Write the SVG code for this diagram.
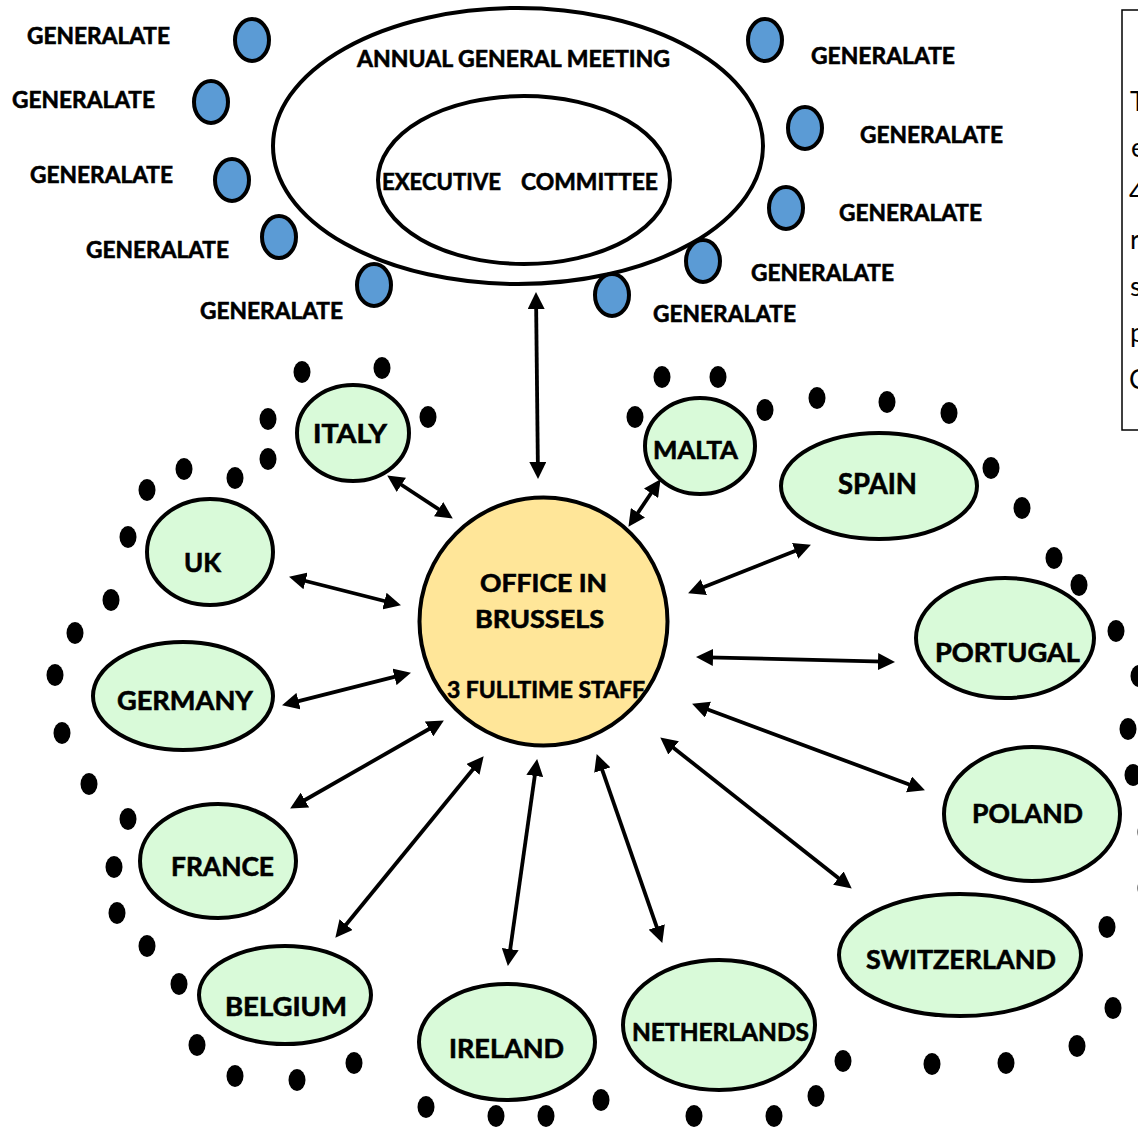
<svg xmlns="http://www.w3.org/2000/svg" width="1138" height="1128" viewBox="0 0 1138 1128">
<style>
.t{font-family:Lato,"Liberation Sans",sans-serif;font-weight:bold;fill:#000;stroke:#000;stroke-width:0.6}
.g{font-size:23px}
.c{font-size:27px}
.country{fill:#D9FAD9;stroke:#000;stroke-width:4}
.gen{fill:#5B9BD5;stroke:#000;stroke-width:4}
.dot{fill:#000}
.conn{stroke:#000;stroke-width:3.8;fill:none;marker-start:url(#ah);marker-end:url(#ah)}
.side{font-family:Lato,"Liberation Sans",sans-serif;font-size:27px;fill:#000}
</style>
<defs>
<marker id="ah" viewBox="0 0 17 17" refX="6" refY="8.5" markerWidth="17" markerHeight="17" markerUnits="userSpaceOnUse" orient="auto-start-reverse">
<path d="M0,0 L17,8.5 L0,17 z" fill="#000"/>
</marker>
</defs>
<rect width="1138" height="1128" fill="#fff"/>

<g id="side-box">
<rect x="1122" y="10" width="40" height="420" fill="#fff" stroke="#000" stroke-width="1.5"/>
<text class="side" x="1130" y="111">T</text>
<text class="side" x="1131" y="157">e</text>
<text class="side" x="1129" y="202">4</text>
<text class="side" x="1130" y="249">r</text>
<text class="side" x="1130" y="296">s</text>
<text class="side" x="1130" y="342">p</text>
<text class="side" x="1129" y="389">C</text>
</g>

<g id="agm">
<ellipse cx="518" cy="146" rx="245" ry="138" fill="#fff" stroke="#000" stroke-width="4"/>
<text class="t g" x="357" y="67" textLength="313" lengthAdjust="spacingAndGlyphs">ANNUAL GENERAL MEETING</text>
</g>
<g id="executive-committee">
<ellipse cx="524" cy="180" rx="146" ry="84" fill="#fff" stroke="#000" stroke-width="4"/>
<text class="t g" y="190"><tspan x="382" textLength="119" lengthAdjust="spacingAndGlyphs">EXECUTIVE</tspan><tspan x="521" textLength="137" lengthAdjust="spacingAndGlyphs">COMMITTEE</tspan></text>
</g>

<g id="generalates">
<g id="gen1"><ellipse class="gen" cx="252" cy="40" rx="17" ry="21"/><text class="t g" x="27" y="44" textLength="143" lengthAdjust="spacingAndGlyphs">GENERALATE</text></g>
<g id="gen2"><ellipse class="gen" cx="211" cy="102" rx="17" ry="21"/><text class="t g" x="12" y="108" textLength="143" lengthAdjust="spacingAndGlyphs">GENERALATE</text></g>
<g id="gen3"><ellipse class="gen" cx="232" cy="180" rx="17" ry="21"/><text class="t g" x="30" y="183" textLength="143" lengthAdjust="spacingAndGlyphs">GENERALATE</text></g>
<g id="gen4"><ellipse class="gen" cx="279" cy="237" rx="17" ry="21"/><text class="t g" x="86" y="258" textLength="143" lengthAdjust="spacingAndGlyphs">GENERALATE</text></g>
<g id="gen5"><ellipse class="gen" cx="374" cy="285" rx="17" ry="21"/><text class="t g" x="200" y="319" textLength="143" lengthAdjust="spacingAndGlyphs">GENERALATE</text></g>
<g id="gen6"><ellipse class="gen" cx="765" cy="40" rx="17" ry="21"/><text class="t g" x="811" y="64" textLength="144" lengthAdjust="spacingAndGlyphs">GENERALATE</text></g>
<g id="gen7"><ellipse class="gen" cx="805" cy="128" rx="17" ry="21"/><text class="t g" x="860" y="143" textLength="143" lengthAdjust="spacingAndGlyphs">GENERALATE</text></g>
<g id="gen8"><ellipse class="gen" cx="786" cy="208" rx="17" ry="21"/><text class="t g" x="839" y="221" textLength="143" lengthAdjust="spacingAndGlyphs">GENERALATE</text></g>
<g id="gen9"><ellipse class="gen" cx="703" cy="261" rx="17" ry="21"/><text class="t g" x="751" y="281" textLength="143" lengthAdjust="spacingAndGlyphs">GENERALATE</text></g>
<g id="gen10"><ellipse class="gen" cx="612" cy="295" rx="17" ry="21"/><text class="t g" x="653" y="322" textLength="143" lengthAdjust="spacingAndGlyphs">GENERALATE</text></g>
</g>

<g id="dots">
<ellipse class="dot" cx="302" cy="372" rx="8.5" ry="11"/>
<ellipse class="dot" cx="382" cy="368" rx="8.5" ry="11"/>
<ellipse class="dot" cx="428" cy="417" rx="8.5" ry="11"/>
<ellipse class="dot" cx="268" cy="419" rx="8.5" ry="11"/>
<ellipse class="dot" cx="268" cy="459" rx="8.5" ry="11"/>
<ellipse class="dot" cx="235" cy="478" rx="8.5" ry="11"/>
<ellipse class="dot" cx="184" cy="469" rx="8.5" ry="11"/>
<ellipse class="dot" cx="147" cy="490" rx="8.5" ry="11"/>
<ellipse class="dot" cx="128" cy="537" rx="8.5" ry="11"/>
<ellipse class="dot" cx="111" cy="600" rx="8.5" ry="11"/>
<ellipse class="dot" cx="75" cy="633" rx="8.5" ry="11"/>
<ellipse class="dot" cx="55" cy="675" rx="8.5" ry="11"/>
<ellipse class="dot" cx="62" cy="733" rx="8.5" ry="11"/>
<ellipse class="dot" cx="89" cy="784" rx="8.5" ry="11"/>
<ellipse class="dot" cx="128" cy="819" rx="8.5" ry="11"/>
<ellipse class="dot" cx="114" cy="867" rx="8.5" ry="11"/>
<ellipse class="dot" cx="117" cy="913" rx="8.5" ry="11"/>
<ellipse class="dot" cx="147" cy="946" rx="8.5" ry="11"/>
<ellipse class="dot" cx="179" cy="984" rx="8.5" ry="11"/>
<ellipse class="dot" cx="197" cy="1045" rx="8.5" ry="11"/>
<ellipse class="dot" cx="235" cy="1076" rx="8.5" ry="11"/>
<ellipse class="dot" cx="297" cy="1080" rx="8.5" ry="11"/>
<ellipse class="dot" cx="354" cy="1063" rx="8.5" ry="11"/>
<ellipse class="dot" cx="426" cy="1107" rx="8.5" ry="11"/>
<ellipse class="dot" cx="496" cy="1116" rx="8.5" ry="11"/>
<ellipse class="dot" cx="546" cy="1116" rx="8.5" ry="11"/>
<ellipse class="dot" cx="601" cy="1100" rx="8.5" ry="11"/>
<ellipse class="dot" cx="694" cy="1116" rx="8.5" ry="11"/>
<ellipse class="dot" cx="774" cy="1116" rx="8.5" ry="11"/>
<ellipse class="dot" cx="816" cy="1096" rx="8.5" ry="11"/>
<ellipse class="dot" cx="843" cy="1061" rx="8.5" ry="11"/>
<ellipse class="dot" cx="932" cy="1064" rx="8.5" ry="11"/>
<ellipse class="dot" cx="1006" cy="1063" rx="8.5" ry="11"/>
<ellipse class="dot" cx="1077" cy="1046" rx="8.5" ry="11"/>
<ellipse class="dot" cx="1113" cy="1008" rx="8.5" ry="11"/>
<ellipse class="dot" cx="1107" cy="927" rx="8.5" ry="11"/>
<ellipse class="dot" cx="1146" cy="888" rx="8.5" ry="11"/>
<ellipse class="dot" cx="1146" cy="832" rx="8.5" ry="11"/>
<ellipse class="dot" cx="1133" cy="775" rx="8.5" ry="11"/>
<ellipse class="dot" cx="1128" cy="729" rx="8.5" ry="11"/>
<ellipse class="dot" cx="1139" cy="676" rx="8.5" ry="11"/>
<ellipse class="dot" cx="1116" cy="631" rx="8.5" ry="11"/>
<ellipse class="dot" cx="1079" cy="585" rx="8.5" ry="11"/>
<ellipse class="dot" cx="1054" cy="558" rx="8.5" ry="11"/>
<ellipse class="dot" cx="1022" cy="508" rx="8.5" ry="11"/>
<ellipse class="dot" cx="991" cy="468" rx="8.5" ry="11"/>
<ellipse class="dot" cx="949" cy="413" rx="8.5" ry="11"/>
<ellipse class="dot" cx="887" cy="402" rx="8.5" ry="11"/>
<ellipse class="dot" cx="817" cy="398" rx="8.5" ry="11"/>
<ellipse class="dot" cx="765" cy="410" rx="8.5" ry="11"/>
<ellipse class="dot" cx="718" cy="377" rx="8.5" ry="11"/>
<ellipse class="dot" cx="662" cy="377" rx="8.5" ry="11"/>
<ellipse class="dot" cx="635" cy="417" rx="8.5" ry="11"/>
</g>

<g id="connectors">
<line class="conn" x1="536.1" y1="303" x2="537.9" y2="468"/>
<line class="conn" x1="396.4" y1="481.5" x2="443.6" y2="512.5"/>
<line class="conn" x1="654.4" y1="488.3" x2="634.6" y2="517.7"/>
<line class="conn" x1="299.7" y1="579.5" x2="390.3" y2="602.5"/>
<line class="conn" x1="292.7" y1="702.6" x2="400.3" y2="675.4"/>
<line class="conn" x1="299.7" y1="803" x2="434.3" y2="726"/>
<line class="conn" x1="342.3" y1="929.3" x2="476.7" y2="764.7"/>
<line class="conn" x1="509.4" y1="955.1" x2="535.6" y2="769.9"/>
<line class="conn" x1="600.3" y1="764.4" x2="658.7" y2="932.6"/>
<line class="conn" x1="668.9" y1="744.2" x2="843.1" y2="881.8"/>
<line class="conn" x1="702.4" y1="707.5" x2="914.6" y2="786.5"/>
<line class="conn" x1="707" y1="657.3" x2="884" y2="661.7"/>
<line class="conn" x1="698.3" y1="589.3" x2="800.7" y2="548.7"/>
</g>

<g id="office-brussels">
<circle cx="543.5" cy="621.5" r="124" fill="#FFE699" stroke="#000" stroke-width="4"/>
<text class="t" font-size="24" x="480" y="592" textLength="127" lengthAdjust="spacingAndGlyphs">OFFICE IN</text>
<text class="t" font-size="24" x="475" y="628" textLength="129" lengthAdjust="spacingAndGlyphs">BRUSSELS</text>
<text class="t" font-size="23" x="447" y="698" textLength="198" lengthAdjust="spacingAndGlyphs">3 FULLTIME STAFF</text>
</g>

<g id="italy"><ellipse class="country" cx="353" cy="433" rx="56" ry="48"/><text class="t c" x="313" y="443" textLength="74" lengthAdjust="spacingAndGlyphs">ITALY</text></g>
<g id="malta"><ellipse class="country" cx="700" cy="446" rx="55" ry="48"/><text class="t" font-size="24" x="653" y="459" textLength="85" lengthAdjust="spacingAndGlyphs">MALTA</text></g>
<g id="uk"><ellipse class="country" cx="210" cy="552" rx="63" ry="53"/><text class="t c" x="184" y="572" textLength="37" lengthAdjust="spacingAndGlyphs">UK</text></g>
<g id="germany"><ellipse class="country" cx="183" cy="696" rx="90" ry="54"/><text class="t c" x="117" y="710" textLength="136" lengthAdjust="spacingAndGlyphs">GERMANY</text></g>
<g id="france"><ellipse class="country" cx="218" cy="861" rx="78" ry="57"/><text class="t c" x="171" y="876" textLength="103" lengthAdjust="spacingAndGlyphs">FRANCE</text></g>
<g id="belgium"><ellipse class="country" cx="285" cy="995" rx="86" ry="49"/><text class="t c" x="225" y="1016" textLength="122" lengthAdjust="spacingAndGlyphs">BELGIUM</text></g>
<g id="ireland"><ellipse class="country" cx="507" cy="1042" rx="88" ry="58"/><text class="t c" x="449" y="1058" textLength="115" lengthAdjust="spacingAndGlyphs">IRELAND</text></g>
<g id="netherlands"><ellipse class="country" cx="719" cy="1025" rx="96" ry="65"/><text class="t" font-size="24" x="632" y="1041" textLength="177" lengthAdjust="spacingAndGlyphs">NETHERLANDS</text></g>
<g id="switzerland"><ellipse class="country" cx="960" cy="955" rx="121" ry="61"/><text class="t c" x="866" y="969" textLength="190" lengthAdjust="spacingAndGlyphs">SWITZERLAND</text></g>
<g id="poland"><ellipse class="country" cx="1032" cy="814" rx="88" ry="67"/><text class="t c" x="972" y="823" textLength="111" lengthAdjust="spacingAndGlyphs">POLAND</text></g>
<g id="portugal"><ellipse class="country" cx="1005" cy="638" rx="89" ry="60"/><text class="t c" x="935" y="662" textLength="145" lengthAdjust="spacingAndGlyphs">PORTUGAL</text></g>
<g id="spain"><ellipse class="country" cx="879" cy="486" rx="98" ry="53"/><text class="t" font-size="28" x="838" y="494" textLength="79" lengthAdjust="spacingAndGlyphs">SPAIN</text></g>
</svg>
